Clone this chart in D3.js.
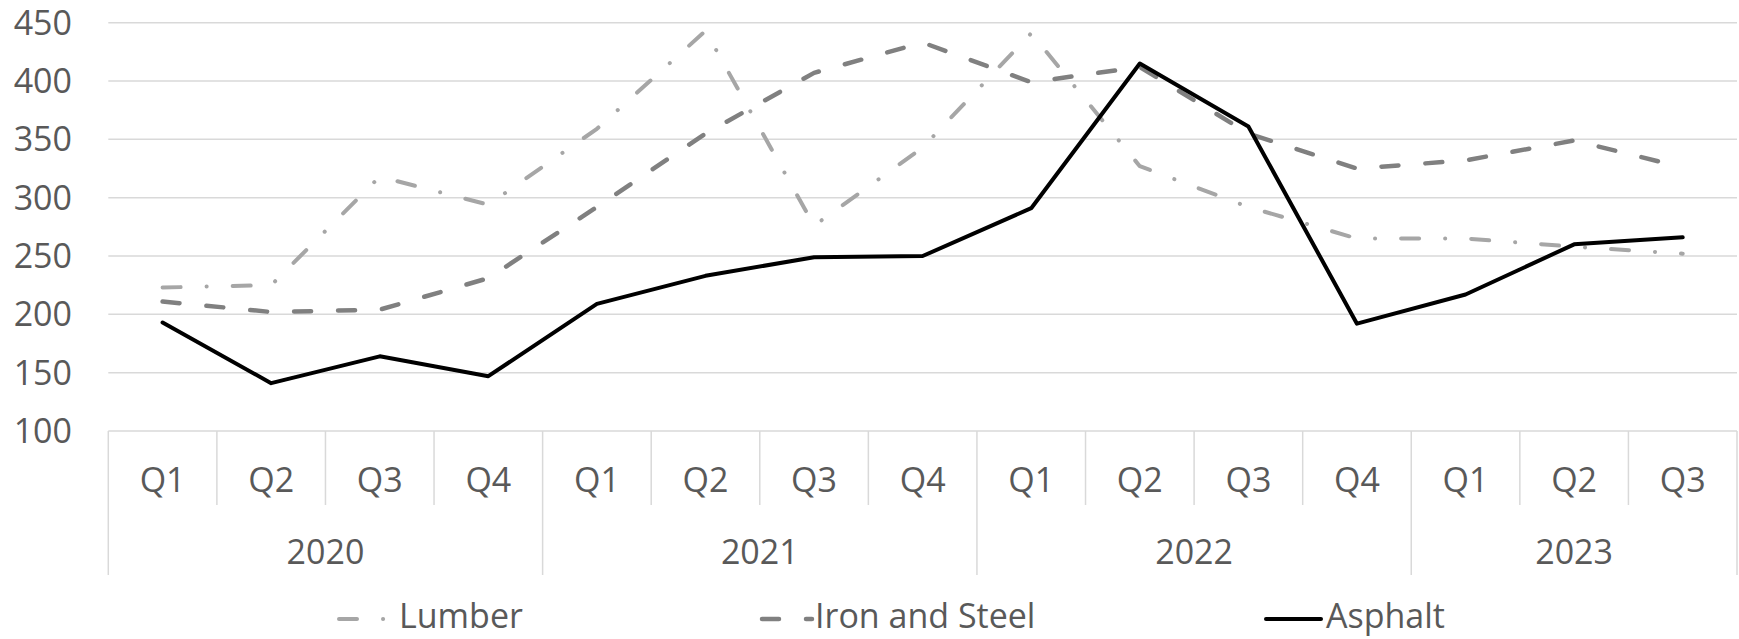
<!DOCTYPE html>
<html>
<head>
<meta charset="utf-8">
<script src="https://cdn.jsdelivr.net/npm/d3@7"></script>
<style>
  html, body { margin: 0; padding: 0; background: #ffffff; }
  svg { display: block; }
  text { font-family: "Open Sans", sans-serif; fill: #595959; }
</style>
</head>
<body>
<svg id="chart" width="1739" height="639"></svg>
<script>
// ---- data ----
const years = ["2020", "2021", "2022", "2023"];
const quarters = ["Q1","Q2","Q3","Q4","Q1","Q2","Q3","Q4","Q1","Q2","Q3","Q4","Q1","Q2","Q3"];
const quarterYear = ["2020","2020","2020","2020","2021","2021","2021","2021","2022","2022","2022","2022","2023","2023","2023"];
const lumber  = [223, 225, 318, 294, 359, 443, 276, 343, 441, 327, 292, 265, 265, 258, 252];
const ironSteel = [211, 202, 204, 231, 292, 355, 407, 433, 399, 412, 355, 325, 332, 349, 326];
const asphalt = [193, 141, 164, 147, 209, 233, 249, 250, 291, 415, 361, 192, 217, 260, 266];
const seriesNames = ["Lumber", "Iron and Steel", "Asphalt"];
const yTicks = [100, 150, 200, 250, 300, 350, 400, 450];

(function () {
// ---- layout ----
const svg = d3.select("#chart");
const plotLeft = 108.3, plotRight = 1737, plotTop = 22.7, plotBottom = 431;
const idx = d3.range(quarters.length);

const x = d3.scaleBand().domain(idx).range([plotLeft, plotRight]).paddingInner(0).paddingOuter(0);
const y = d3.scaleLinear().domain([100, 450]).range([plotBottom, plotTop]);

const gridColor = "#d9d9d9";

// gridlines
svg.append("g").selectAll("line").data(yTicks).join("line")
  .attr("x1", plotLeft).attr("x2", plotRight)
  .attr("y1", d => y(d)).attr("y2", d => y(d))
  .attr("stroke", gridColor).attr("stroke-width", 1.5);

// y tick labels
svg.append("g").selectAll("text").data(yTicks).join("text")
  .attr("x", 72).attr("y", d => y(d) + 12)
  .attr("text-anchor", "end")
  .attr("font-size", 34)
  .text(d => d);

// category dividers
const boundaries = d3.range(quarters.length + 1);
svg.append("g").selectAll("line").data(boundaries).join("line")
  .attr("x1", i => i < quarters.length ? x(i) : plotRight)
  .attr("x2", i => i < quarters.length ? x(i) : plotRight)
  .attr("y1", plotBottom)
  .attr("y2", i => (i === 0 || i === quarters.length || quarterYear[i] !== quarterYear[i-1]) ? 575 : 505)
  .attr("stroke", gridColor).attr("stroke-width", 1.5);

// quarter labels
svg.append("g").selectAll("text").data(idx).join("text")
  .attr("x", i => x(i) + x.bandwidth() / 2)
  .attr("y", 492)
  .attr("text-anchor", "middle")
  .attr("font-size", 34)
  .text(i => quarters[i]);

// year labels
svg.append("g").selectAll("text").data(years).join("text")
  .attr("x", yr => {
    const ii = idx.filter(i => quarterYear[i] === yr);
    const a = x(ii[0]);
    const b = x(ii[ii.length - 1]) + x.bandwidth();
    return (a + b) / 2;
  })
  .attr("y", 564)
  .attr("text-anchor", "middle")
  .attr("font-size", 34)
  .text(d => d);

// series
const series = [
  { name: seriesNames[0], values: lumber, color: "#a6a6a6", width: 4, dash: "18,26,0.1,26" },
  { name: seriesNames[1], values: ironSteel, color: "#808080", width: 4.5, dash: "17,27" },
  { name: seriesNames[2], values: asphalt, color: "#000000", width: 4, dash: null }
];

const line = d3.line()
  .x((d, i) => x(i) + x.bandwidth() / 2)
  .y(d => y(d));

svg.append("g").selectAll("path").data(series).join("path")
  .attr("d", s => line(s.values))
  .attr("fill", "none")
  .attr("stroke", s => s.color)
  .attr("stroke-width", s => s.width)
  .attr("stroke-linejoin", "round")
  .attr("stroke-linecap", "round")
  .attr("stroke-dasharray", s => s.dash);

// legend
const legendItems = [
  { s: series[0], x1: 339, x2: 390, tx: 399 },
  { s: series[1], x1: 762, x2: 812, tx: 815 },
  { s: series[2], x1: 1266, x2: 1321, tx: 1326 }
];
const lg = svg.append("g");
legendItems.forEach(it => {
  lg.append("line")
    .attr("x1", it.x1).attr("x2", it.x2)
    .attr("y1", 619).attr("y2", 619)
    .attr("stroke", it.s.color)
    .attr("stroke-width", it.s.width)
    .attr("stroke-linecap", "round")
    .attr("stroke-dasharray", it.s.dash);
  lg.append("text")
    .attr("x", it.tx).attr("y", 628)
    .attr("font-size", 34)
    .text(it.s.name);
});
})();
</script>
</body>
</html>
